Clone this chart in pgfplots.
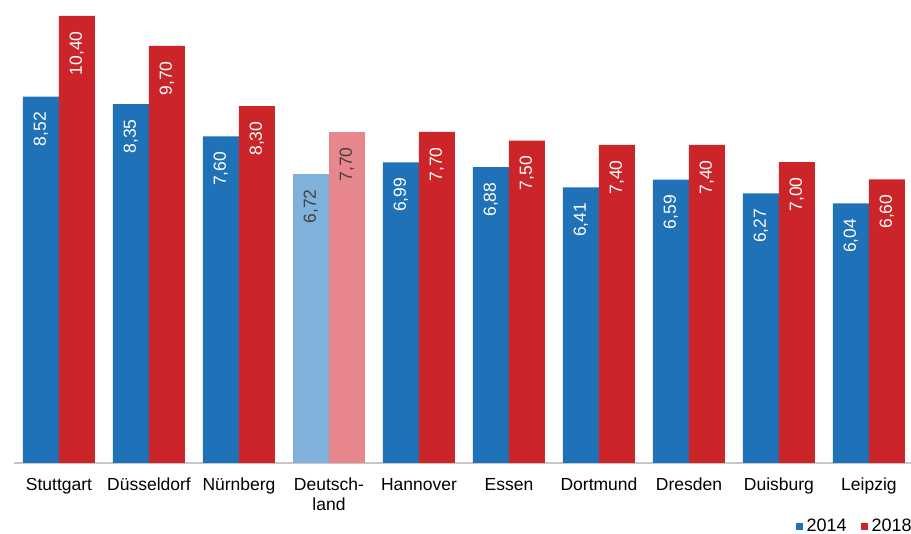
\documentclass[border=0pt]{standalone}
\usepackage{pgfplots}
\pgfplotsset{compat=1.18}
\usepackage{fontspec}
\setmainfont{Liberation Sans}
\definecolor{cblue}{RGB}{31,113,184}
\definecolor{cred}{RGB}{204,37,41}
\definecolor{lblue}{RGB}{128,177,219}
\definecolor{lred}{RGB}{232,134,141}
\definecolor{dtext}{RGB}{64,64,64}
\begin{document}
\begin{tikzpicture}
\begin{axis}[
  scale only axis, width=448.5pt, height=231.5pt,
  xmin=-0.5, xmax=9.467, ymin=0, ymax=10.77,
  axis x line=bottom, axis y line=none,
  x axis line style={-, draw=black!22, line width=0.8pt},
  xtick={0,...,9},
  xticklabels={Stuttgart, Düsseldorf, Nürnberg, {Deutsch-\\land}, Hannover, Essen, Dortmund, Dresden, Duisburg, Leipzig},
  xticklabel style={align=center, font=\fontsize{8.75}{10}\selectfont, yshift=-4pt},
  major tick length=0pt,
  ybar, bar width=0.4,
  /pgf/number format/.cd, fixed, fixed zerofill, precision=2, use comma, assume math mode=true,
  /pgfplots/.cd,
  nodes near coords,
  nodes near coords style={rotate=90, anchor=east, inner xsep=7.5pt, font=\fontsize{8.75}{10}\selectfont, text=white},
  legend style={draw=none, fill=none, inner sep=0pt, at={(1,0)}, anchor=east, yshift=-32pt, xshift=2.5pt,
    font=\fontsize{9}{10}\selectfont, legend columns=-1,
    /tikz/every even column/.append style={column sep=5pt}},
  legend image code/.code={\fill[#1] (0pt,-1.75pt) rectangle (3.5pt,1.75pt);},
]
\addplot[fill=cblue, draw=none, bar shift=-0.2] coordinates {(0,8.52) (1,8.35) (2,7.60) (4,6.99) (5,6.88) (6,6.41) (7,6.59) (8,6.27) (9,6.04)};
\addplot[fill=cred, draw=none, bar shift=0.2] coordinates {(0,10.40) (1,9.70) (2,8.30) (4,7.70) (5,7.50) (6,7.40) (7,7.40) (8,7.00) (9,6.60)};
\addplot[fill=lblue, draw=none, bar shift=-0.2, forget plot, nodes near coords style={text=dtext}] coordinates {(3,6.72)};
\addplot[fill=lred, draw=none, bar shift=0.2, forget plot, nodes near coords style={text=dtext}] coordinates {(3,7.70)};
\legend{2014, 2018}
\end{axis}
\pgfresetboundingbox
\path (-7pt,-35.5pt) rectangle (448.5pt,231.5pt);
\end{tikzpicture}
\end{document}
